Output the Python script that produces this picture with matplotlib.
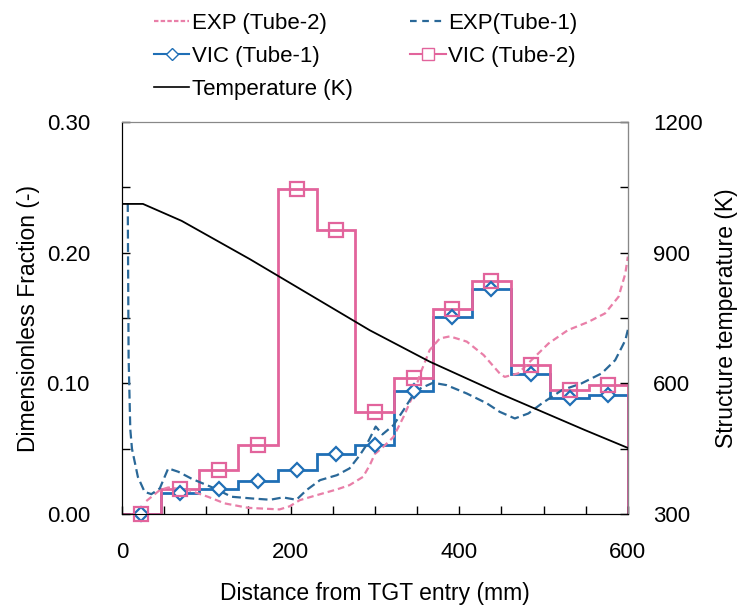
import matplotlib
matplotlib.use('Agg')
import matplotlib.pyplot as plt
from matplotlib.lines import Line2D
from matplotlib.ticker import MultipleLocator

plt.rcParams['font.family'] = ['Liberation Sans', 'DejaVu Sans']
plt.rcParams['font.size'] = 16

# VIC results per 46 mm segment
bin_edges = [0, 46, 92, 138, 185, 231, 277, 323, 369, 415, 462, 508, 554, 600]
bin_centers = [23, 69, 115, 162, 208, 254, 300, 346, 392, 438, 485, 531, 577]
vic_tube1 = [0.0, 0.016, 0.019, 0.025, 0.034, 0.046, 0.053, 0.094, 0.151, 0.172, 0.107, 0.089, 0.091]
vic_tube2 = [0.0, 0.019, 0.034, 0.053, 0.249, 0.217, 0.078, 0.104, 0.157, 0.178, 0.114, 0.095, 0.099]

# experiment curves
exp1_x = [7, 8, 10, 12, 19, 27, 35, 45, 55, 67, 83, 110, 130, 154, 176, 191, 207, 219, 235,
          255, 270, 282, 290, 301, 309, 322, 334, 344, 354, 369, 385, 409, 433, 448, 466,
          482, 498, 522, 545, 569, 585, 597, 600]
exp1_y = [0.238, 0.12, 0.065, 0.05, 0.0285, 0.017, 0.0153, 0.0197, 0.035, 0.0324, 0.027,
          0.0197, 0.0133, 0.012, 0.011, 0.0128, 0.011, 0.0184, 0.026, 0.0298, 0.035, 0.045,
          0.0528, 0.067, 0.061, 0.068, 0.0796, 0.0898, 0.0962, 0.1005, 0.0987, 0.0923,
          0.0847, 0.0783, 0.0732, 0.077, 0.0847, 0.0949, 0.1, 0.1077, 0.1178, 0.133, 0.141]
exp2_x = [29, 45, 55, 79, 102, 122, 150, 187, 199, 211, 231, 255, 270, 286, 294, 300, 310,
          322, 334, 346, 354, 365, 377, 389, 409, 429, 448, 454, 470, 486, 506, 529, 553,
          573, 589, 597, 600]
exp2_y = [0.010, 0.0184, 0.0204, 0.0184, 0.0133, 0.0082, 0.0048, 0.0036, 0.006, 0.0107,
          0.0145, 0.0189, 0.0222, 0.0285, 0.0375, 0.046, 0.0515, 0.059, 0.0744, 0.092,
          0.1077, 0.1255, 0.1344, 0.136, 0.132, 0.1217, 0.1077, 0.105, 0.1077, 0.118,
          0.1306, 0.1408, 0.147, 0.1536, 0.1663, 0.184, 0.197]

# structure temperature
temp_x = [0, 25, 71, 152, 294, 365, 448, 549, 600]
temp_k = [1012, 1012, 973, 885, 722, 650, 577, 493, 452]

pink = '#E2649C'
pink_light = '#E97FA8'
blue = '#1F6FB6'
blue_dark = '#2A6898'

fig = plt.figure(figsize=(7.43, 6.07), dpi=100)
ax = fig.add_axes([0.164, 0.153, 0.681, 0.646])
ax2 = ax.twinx()

ax.plot(exp2_x, exp2_y, color=pink_light, lw=1.6, dashes=(3, 1.8))
ax.plot(exp1_x, exp1_y, color=blue_dark, lw=1.6, dashes=(4, 2))
ax.stairs(vic_tube1, bin_edges, color=blue, lw=2)
ax.stairs(vic_tube2, bin_edges, color=pink, lw=2)
ax.plot(bin_centers, vic_tube1, 'D', ms=7.5, mfc='white', mec=blue, mew=1.6,
        clip_on=False, zorder=4)
ax.plot(bin_centers, vic_tube2, 's', ms=10, mfc='none', mec=pink, mew=1.6,
        clip_on=False, zorder=5)
ax2.plot(temp_x, temp_k, color='black', lw=1.3)

ax.set_xlim(0, 600)
ax.set_ylim(0, 0.30)
ax2.set_ylim(300, 1200)
ax.xaxis.set_major_locator(MultipleLocator(200))
ax.xaxis.set_minor_locator(MultipleLocator(50))
ax.yaxis.set_major_locator(MultipleLocator(0.1))
ax.yaxis.set_minor_locator(MultipleLocator(0.05))
ax2.yaxis.set_major_locator(MultipleLocator(300))
ax2.yaxis.set_minor_locator(MultipleLocator(150))
ax.yaxis.set_major_formatter(lambda v, p: f'{v:.2f}')

for a in (ax, ax2):
    a.tick_params(which='both', direction='in', length=6, width=1)
ax.tick_params(axis='y', pad=23)
ax.tick_params(axis='x', pad=20)
ax2.tick_params(axis='y', pad=18)
ax.spines['top'].set_color('#888888')
ax2.spines['right'].set_color('#888888')
ax2.spines['top'].set_color('#888888')

ax.set_xlabel('Distance from TGT entry (mm)', fontsize=16.5, labelpad=14)
ax.set_ylabel('Dimensionless Fraction (-)', fontsize=16.5, labelpad=5)
ax2.set_ylabel('Structure temperature (K)', fontsize=16.5, labelpad=9)

h_exp2 = Line2D([], [], color=pink_light, lw=1.6, dashes=(2, 1))
h_exp1 = Line2D([], [], color=blue_dark, lw=1.6, dashes=(3, 2.5))
h_vic1 = Line2D([], [], color=blue, lw=1.5, marker='D', ms=6, mfc='white', mec=blue)
h_vic2 = Line2D([], [], color=pink, lw=1.5, marker='s', ms=8, mfc='white', mec=pink)
h_temp = Line2D([], [], color='black', lw=1.2)
fig.legend([h_exp2, h_vic1, h_temp, h_exp1, h_vic2],
           ['EXP (Tube-2)', 'VIC (Tube-1)', 'Temperature (K)', 'EXP(Tube-1)', 'VIC (Tube-2)'],
           ncol=2, loc='upper left', bbox_to_anchor=(0.18, 1.012), frameon=False,
           handlelength=1.6, handletextpad=0.1, columnspacing=2.6, labelspacing=0.55,
           fontsize=16)

fig.savefig('out.png', dpi=100)
